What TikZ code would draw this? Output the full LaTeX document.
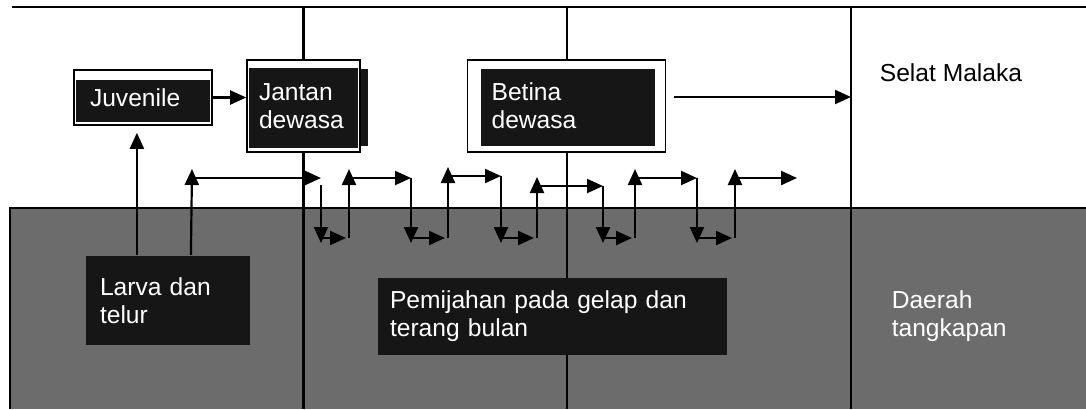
\documentclass[tikz,border=0pt]{standalone}
\usepackage{fontspec}
\setmainfont{Liberation Sans}
\usetikzlibrary{arrows.meta,positioning,calc}
\definecolor{boxdark}{RGB}{22,22,22}
\definecolor{seagray}{RGB}{108,108,108}

\begin{document}
\begin{tikzpicture}[x=0.5pt, y=-0.5pt, line width=1.1pt,
  >={Triangle[length=8pt,width=7pt]},
  lbl/.style={font=\fontsize{12.3}{14}\selectfont, align=left},
  inlay/.style n args={4}{lbl, draw, line width=0.8pt, fill=white, text=white, inner ysep=0pt,
    path picture={\fill[boxdark] ([xshift=#1,yshift=-#2]path picture bounding box.north west)
      rectangle ([xshift=-#3,yshift=#4]path picture bounding box.south east);}},
  dark/.style={lbl, fill=boxdark, text=white, inner ysep=0pt}]
\useasboundingbox (0,0) rectangle (1086,409);
% fishing ground
\fill[seagray] (10,208) rectangle (1086,409);
\draw (10,409) -- (10,208) -- (1086,208);
\coordinate (tl) at (12,7);
\coordinate (tr) at (1086,7);
\coordinate (bl) at (10,409);
\coordinate (sm) at (851,97);
\draw (tl) -- (tr);
% stages
\node[inlay={1pt}{5pt}{1pt}{1.5pt}, inner xsep=8pt, text width=53pt, minimum height=27.5pt] (juv) at (143,97.5) {Juvenile};
\node[inlay={1pt}{4pt}{1pt}{2pt}, inner xsep=6pt, text width=44.5pt, minimum height=46pt] (jantan) at (303.5,106) {Jantan\\dewasa};
\fill[boxdark] ([yshift=-5pt]jantan.north east) rectangle ([xshift=3.5pt,yshift=3.5pt]jantan.south east);
\node[inlay={6.5pt}{4.5pt}{5.5pt}{3pt}, inner xsep=12pt, text width=75pt, minimum height=46pt, right=53pt of jantan] (betina) {Betina\\dewasa};
\node[lbl] (selat) at (951,73) {Selat Malaka};
% borders of the zones
\draw (jantan.north) -- (jantan.north |- tl);
\draw (jantan.south) -- (jantan.south |- bl);
\draw (betina.north) -- (betina.north |- tl);
\draw (betina.south) -- (betina.south |- bl);
\draw (sm |- tl) -- (sm |- bl);
\node[dark, inner xsep=7pt, text width=68pt, minimum height=44.5pt] (larva) at (168,300.5) {Larva dan\\telur};
\node[dark, inner xsep=6pt, text width=162.5pt, minimum height=38.5pt] (pijah) at (552.5,316.5) {Pemijahan pada gelap dan\\terang bulan};
\node[lbl, text=white, anchor=west] (daerah) at (884,316) {Daerah\\tangkapan};
% growth
\coordinate (l1) at ([xshift=26pt]larva.north west);
\coordinate (l2) at ([xshift=53pt]larva.north west);
\draw[->, shorten >=3.5pt] (l1) -- (l1 |- juv.south);
\draw[->] (juv.east) -- (juv.east -| jantan.west);
\draw[->] ([xshift=4pt]betina.east |- sm) -- (sm);
% spawning cycles
\coordinate (low) at (0,238);
\coordinate (lowtip) at (0,243);
\foreach \u/\d/\t [count=\i] in {192/321/178, 349/411/178, 448/501/176, 537/603/186, 635/697/178, 735/797/178}{
  \coordinate (up\i) at (\u,\t);
  \coordinate (dn\i) at (\d,\t);
  \draw[->] (up\i) -- (dn\i);
}
\draw[->] (l2) -- ([yshift=4.5pt]up1);
\foreach \i in {2,...,6}
  \draw[->] (up\i |- low) -- ([yshift=4.5pt]up\i);
\draw[->] ([yshift=-3.5pt]dn1) -- (dn1 |- lowtip);
\foreach \i in {2,...,5}
  \draw[->] (dn\i) -- (dn\i |- lowtip);
\foreach \i [evaluate=\i as \j using int(\i+1)] in {1,...,5}
  \draw[->, shorten >=1.5pt] (dn\i |- low) -- (up\j |- low);
\end{tikzpicture}
\end{document}
